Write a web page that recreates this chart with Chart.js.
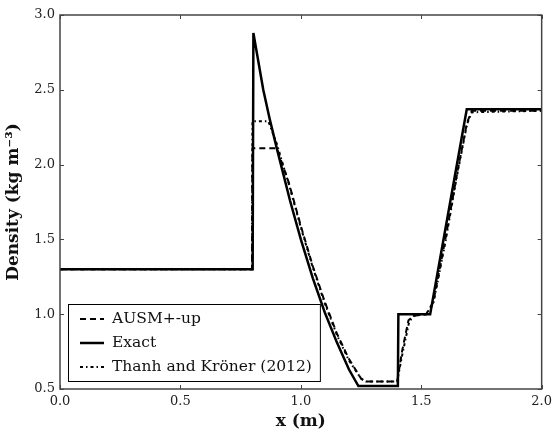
<!DOCTYPE html>
<html>
<head>
<meta charset="utf-8">
<script src="https://cdn.jsdelivr.net/npm/chart.js@4"></script>
<style>
    html, body { margin: 0; padding: 0; background: #fff; }
    canvas { display: block; }
</style>
</head>
<body>
<canvas id="densityChart" width="557" height="435"></canvas>
<script>
// Data
const exactX = [0, 0.8, 0.803, 0.844, 0.87, 0.9, 0.93, 0.955, 1.0, 1.05, 1.1, 1.15, 1.2, 1.239, 1.403, 1.405, 1.537, 1.689, 2.0];
const exactY = [1.3, 1.3, 2.88, 2.50, 2.31, 2.11, 1.92, 1.76, 1.50, 1.24, 1.01, 0.81, 0.63, 0.52, 0.52, 1.0, 1.0, 2.37, 2.37];

const ausmX = [0, 0.797, 0.799, 0.90, 0.95, 1.0, 1.05, 1.1, 1.15, 1.2, 1.25, 1.27, 1.4, 1.42, 1.447, 1.47, 1.52, 1.55, 1.6, 1.65, 1.69, 1.71, 2.0];
const ausmY = [1.3, 1.3, 2.11, 2.11, 1.88, 1.59, 1.32, 1.08, 0.87, 0.70, 0.57, 0.55, 0.55, 0.75, 0.96, 0.99, 1.0, 1.08, 1.5, 1.95, 2.28, 2.36, 2.36];

const thanhX = [0, 0.797, 0.799, 0.865, 0.9, 0.95, 1.0, 1.05, 1.1, 1.15, 1.2, 1.25, 1.27, 1.4, 1.42, 1.45, 1.47, 1.52, 1.55, 1.6, 1.65, 1.69, 1.71, 2.0];
const thanhY = [1.3, 1.3, 2.29, 2.29, 2.14, 1.87, 1.58, 1.31, 1.07, 0.86, 0.69, 0.57, 0.55, 0.55, 0.72, 0.95, 0.99, 1.0, 1.07, 1.48, 1.94, 2.27, 2.35, 2.36];

const xTicks = [0, 0.5, 1.0, 1.5, 2.0];
const yTicks = [0.5, 1.0, 1.5, 2.0, 2.5, 3.0];

const serif = '"DejaVu Serif", "Liberation Serif", serif';

function toPoints(xs, ys) {
    return xs.map((x, i) => ({ x: x, y: ys[i] }));
}

// Frame on all four sides with inward ticks
const framePlugin = {
    id: 'frame',
    afterDraw(chart) {
        const ctx = chart.ctx;
        const a = chart.chartArea;
        const xs = chart.scales.x;
        const ys = chart.scales.y;
        ctx.save();
        ctx.strokeStyle = '#444';
        ctx.lineWidth = 1.5;
        ctx.strokeRect(a.left, a.top, a.right - a.left, a.bottom - a.top);
        ctx.lineWidth = 1;
        ctx.beginPath();
        xTicks.forEach(v => {
            const px = Math.round(xs.getPixelForValue(v)) + 0.5;
            ctx.moveTo(px, a.bottom); ctx.lineTo(px, a.bottom - 4);
            ctx.moveTo(px, a.top); ctx.lineTo(px, a.top + 4);
        });
        yTicks.forEach(v => {
            const py = Math.round(ys.getPixelForValue(v)) + 0.5;
            ctx.moveTo(a.left, py); ctx.lineTo(a.left + 4, py);
            ctx.moveTo(a.right, py); ctx.lineTo(a.right - 4, py);
        });
        ctx.stroke();
        ctx.restore();
    }
};

// Legend box in the lower left of the plot
const legendPlugin = {
    id: 'boxLegend',
    afterDatasetsDraw(chart) {
        const ctx = chart.ctx;
        const a = chart.chartArea;
        const order = [1, 0, 2];
        const rowH = 24;
        const left = a.left + 8;
        const top = a.bottom - 8 - 77;
        ctx.save();
        ctx.font = '15.5px ' + serif;
        let maxW = 0;
        order.forEach(i => { maxW = Math.max(maxW, ctx.measureText(chart.data.datasets[i].label).width); });
        const w = 44 + maxW + 8;
        ctx.fillStyle = '#fff';
        ctx.fillRect(left, top, w, 77);
        ctx.strokeStyle = '#000';
        ctx.lineWidth = 1;
        ctx.strokeRect(left + 0.5, top + 0.5, w, 77);
        order.forEach((i, row) => {
            const ds = chart.data.datasets[i];
            const y = top + 15 + row * rowH;
            ctx.strokeStyle = '#000';
            ctx.lineWidth = ds.borderWidth;
            ctx.setLineDash(ds.borderDash || []);
            ctx.beginPath();
            ctx.moveTo(left + 12, y);
            ctx.lineTo(left + 36, y);
            ctx.stroke();
            ctx.setLineDash([]);
            ctx.fillStyle = '#111';
            ctx.textBaseline = 'middle';
            ctx.fillText(ds.label, left + 44, y);
        });
        ctx.restore();
    }
};

const ctx = document.getElementById('densityChart').getContext('2d');
const densityChart = new Chart(ctx, {
    type: 'scatter',
    data: {
        datasets: [
            {
                label: 'Exact',
                data: toPoints(exactX, exactY),
                borderColor: '#000',
                borderWidth: 2.5,
                showLine: true,
                pointRadius: 0,
                order: 1
            },
            {
                label: 'AUSM+-up',
                data: toPoints(ausmX, ausmY),
                borderColor: '#000',
                borderWidth: 2,
                borderDash: [6, 4],
                showLine: true,
                pointRadius: 0,
                order: 2
            },
            {
                label: 'Thanh and Kröner (2012)',
                data: toPoints(thanhX, thanhY),
                borderColor: '#000',
                borderWidth: 2,
                borderDash: [3, 3, 1.5, 3],
                showLine: true,
                pointRadius: 0,
                order: 3
            }
        ]
    },
    options: {
        responsive: false,
        animation: false,
        layout: {
            padding: { left: 0, top: 15, right: 15, bottom: 0 }
        },
        plugins: {
            legend: { display: false },
            tooltip: { enabled: false }
        },
        scales: {
            x: {
                type: 'linear',
                min: 0,
                max: 2,
                afterFit: (scale) => { scale.height = 46; },
                afterBuildTicks: (scale) => { scale.ticks = xTicks.map(v => ({ value: v })); },
                grid: { display: false, drawTicks: false },
                border: { display: false },
                ticks: {
                    padding: 5,
                    color: '#222',
                    font: { family: serif, size: 13 },
                    callback: (v) => Number(v).toFixed(1)
                },
                title: {
                    display: true,
                    text: 'x (m)',
                    color: '#111',
                    font: { family: serif, size: 17, weight: 'bold' },
                    padding: { top: 0, bottom: 3 }
                }
            },
            y: {
                type: 'linear',
                min: 0.5,
                max: 3.0,
                afterFit: (scale) => { scale.width = 60; },
                afterBuildTicks: (scale) => { scale.ticks = yTicks.map(v => ({ value: v })); },
                grid: { display: false, drawTicks: false },
                border: { display: false },
                ticks: {
                    padding: 5,
                    color: '#222',
                    font: { family: serif, size: 13 },
                    callback: (v) => Number(v).toFixed(1)
                },
                title: {
                    display: true,
                    text: 'Density (kg m⁻³)',
                    color: '#111',
                    font: { family: serif, size: 17, weight: 'bold' },
                    padding: { top: 3, bottom: 0 }
                }
            }
        }
    },
    plugins: [legendPlugin, framePlugin]
});
</script>
</body>
</html>
